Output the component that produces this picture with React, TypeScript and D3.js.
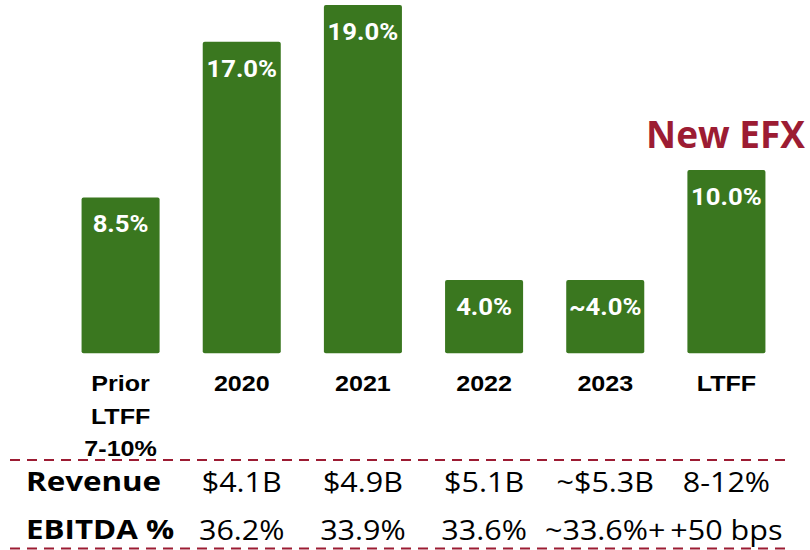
import React from "react";
import * as d3 from "d3";

const categories = ["Prior LTFF 7-10%", "2020", "2021", "2022", "2023", "LTFF"];
const categoryLines = [["Prior", "LTFF", "7-10%"], ["2020"], ["2021"], ["2022"], ["2023"], ["LTFF"]];
const growthValues = [8.5, 17.0, 19.0, 4.0, 4.0, 10.0];
const growthLabels = ["8.5%", "17.0%", "19.0%", "4.0%", "~4.0%", "10.0%"];
const revenueLabels = ["$4.1B", "$4.9B", "$5.1B", "~$5.3B", "8-12%"];
const ebitdaLabels = ["36.2%", "33.9%", "33.6%", "~33.6%+", "+50 bps"];
const rowTitles = ["Revenue", "EBITDA %"];
const highlightLabel = "New EFX";

const W = 810;
const H = 550;
const GREEN = "#3a771f";
const RED = "#9c1c33";
const SX = 1.14;

export default function App() {
  const x = d3
    .scaleBand<string>()
    .domain(categories)
    .range([60, 787])
    .paddingInner(0.356)
    .paddingOuter(0.178);
  const y = d3.scaleLinear().domain([0, 19]).range([353.3, 5]);
  const bw = x.bandwidth();
  const cx = (c: string) => (x(c) as number) + bw / 2;

  const stretched = (
    key: string,
    tx: number,
    ty: number,
    text: string,
    props: any,
    sx = SX
  ) => (
    <text key={key} transform={`translate(${tx},${ty}) scale(${sx},1)`} {...props}>
      {text}
    </text>
  );

  return (
    <svg
      width={W}
      height={H}
      style={{ position: "absolute", left: 0, top: 0, background: "#fff" }}
    >
      {categories.map((c, i) => (
        <rect
          key={"b" + c}
          x={x(c)}
          y={y(growthValues[i])}
          width={bw}
          height={y(0) - y(growthValues[i])}
          fill={GREEN}
          rx={2}
        />
      ))}
      {categories.map((c, i) =>
        stretched("v" + c, cx(c), y(growthValues[i]) + 35, growthLabels[i], {
          textAnchor: "middle",
          fill: "#fff",
          fontFamily: "Roboto, sans-serif",
          fontWeight: 700,
          fontSize: 24,
        }, 1.07)
      )}
      {categories.map((c, i) =>
        categoryLines[i].map((ln, j) =>
          stretched("c" + c + j, cx(c), 391 + j * 32.5, ln, {
            textAnchor: "middle",
            fill: "#000",
            fontFamily: "'Liberation Sans', Arial, sans-serif",
            fontWeight: 700,
            fontSize: 22,
          })
        )
      )}
      <text
        x={805}
        y={147.5}
        textAnchor="end"
        fill={RED}
        fontFamily="'Open Sans', sans-serif"
        fontWeight={700}
        fontSize={37}
      >
        {highlightLabel}
      </text>
      {[460, 548.5].map((ly) => (
        <line
          key={"d" + ly}
          x1={10}
          x2={792}
          y1={ly}
          y2={ly}
          stroke={RED}
          strokeWidth={2}
          strokeDasharray="10 7"
        />
      ))}
      {rowTitles.map((t, r) =>
        stretched("r" + t, 26, r === 0 ? 491 : 539, t, {
          textAnchor: "start",
          fill: "#000",
          fontFamily: "'Open Sans', sans-serif",
          fontWeight: 700,
          fontSize: 27,
        }, 1.16)
      )}
      {categories.slice(1).map((c, i) =>
        stretched("rv" + c, cx(c), 492, revenueLabels[i], {
          textAnchor: "middle",
          fill: "#000",
          fontFamily: "'Open Sans', sans-serif",
          fontWeight: 400,
          fontSize: 27,
        }, 1.13)
      )}
      {categories.slice(1).map((c, i) =>
        stretched("eb" + c, cx(c), 540, ebitdaLabels[i], {
          textAnchor: "middle",
          fill: "#000",
          fontFamily: "'Open Sans', sans-serif",
          fontWeight: 400,
          fontSize: 27,
        }, 1.13)
      )}
    </svg>
  );
}
